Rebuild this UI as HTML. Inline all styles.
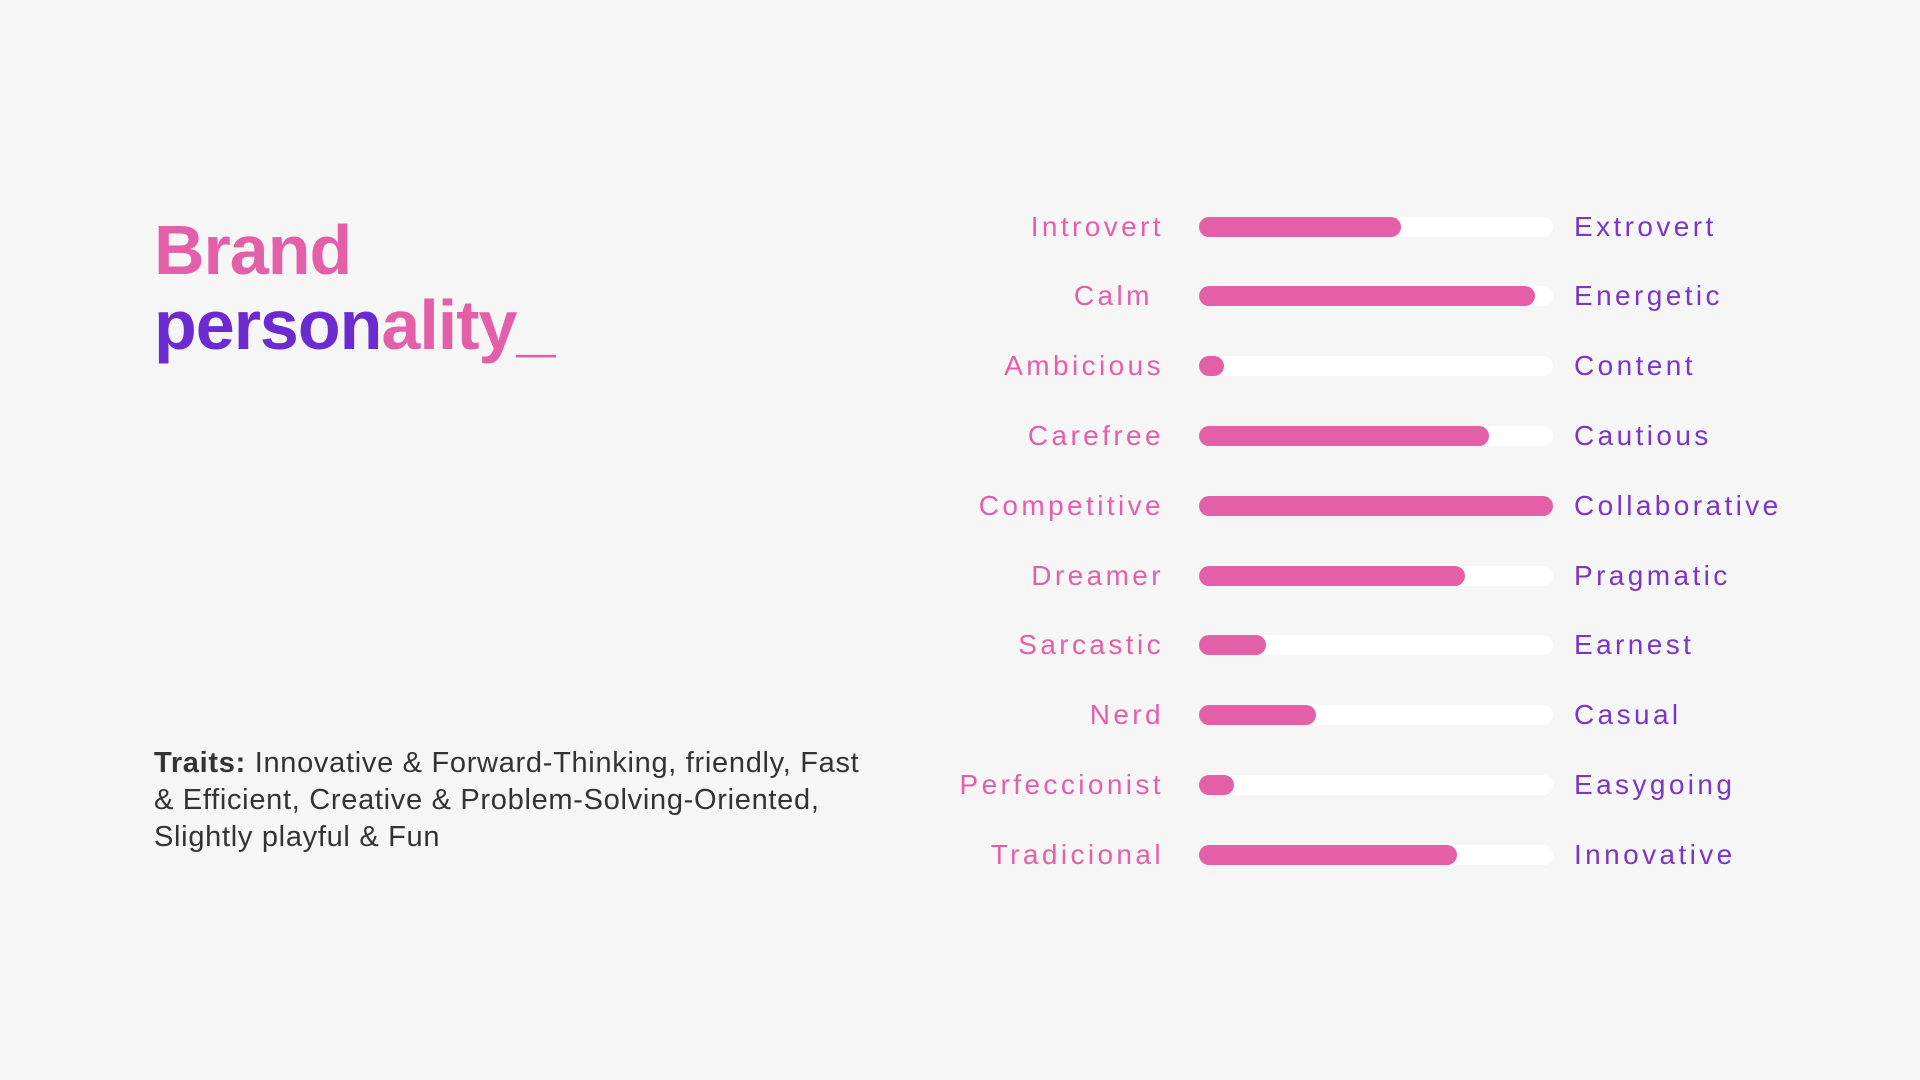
<!DOCTYPE html>
<html><head><meta charset="utf-8"><style>
body{margin:0;width:1920px;height:1080px;background:#f6f6f6;font-family:"Liberation Sans",sans-serif;overflow:hidden;position:relative}
.t{position:absolute;left:154px;font-weight:bold;font-size:70px;letter-spacing:-1px;line-height:1}
.pk{color:#e35fa8}.pu{color:#6c2bd0}
#traits{position:absolute;left:154px;top:745px;font-size:29px;line-height:37px;letter-spacing:0.7px;color:#333;white-space:nowrap}
.lab{position:absolute;font-size:28px;letter-spacing:3.4px;line-height:30px;white-space:pre}
.l{color:#e35fa8;text-align:right;width:400px}
.r{color:#7a35c9}
.track{position:absolute;height:20px;border-radius:10px;background:#fff}
.fill{position:absolute;left:0;top:0;height:20px;border-radius:10px;background:#e35fa8}
</style></head><body>
<div class="t pk" style="top:215px">Brand</div>
<div class="t" style="top:290px"><span class="pu">person</span><span class="pk">ality_</span></div>
<div id="traits"><b>Traits:</b> Innovative &amp; Forward-Thinking, friendly, Fast<br>&amp; Efficient, Creative &amp; Problem-Solving-Oriented,<br>Slightly playful &amp; Fun</div>
<div id="chart"></div>
<script>
const leftLabels=["Introvert","Calm ","Ambicious","Carefree","Competitive","Dreamer","Sarcastic","Nerd","Perfeccionist","Tradicional"];
const rightLabels=["Extrovert","Energetic","Content","Cautious","Collaborative","Pragmatic","Earnest","Casual","Easygoing","Innovative"];
const values=[57,95,7,82,100,75,19,33,10,73];
const X0=1199,W=354,Y0=226.5,STEP=69.8,H=20;
const xs=v=>v/100*W;
const ys=i=>Y0+i*STEP;
const c=document.getElementById('chart');
values.forEach((v,i)=>{
  const y=ys(i);
  const tr=document.createElement('div');tr.className='track';
  tr.style.left=X0+'px';tr.style.top=(y-H/2)+'px';tr.style.width=W+'px';
  
  
  const f=document.createElement('div');f.className='fill';
  f.style.width=Math.max(H,xs(v))+'px';
  
  
  tr.appendChild(f);c.appendChild(tr);
  const l=document.createElement('div');l.className='lab l';
  l.textContent=leftLabels[i];
  l.style.left=(1164-400)+'px';l.style.top=(y-15)+'px';
  
  
  c.appendChild(l);
  const r=document.createElement('div');r.className='lab r';
  r.textContent=rightLabels[i];
  r.style.left='1574px';r.style.top=(y-15)+'px';
  
  
  c.appendChild(r);
});
</script>
</body></html>
